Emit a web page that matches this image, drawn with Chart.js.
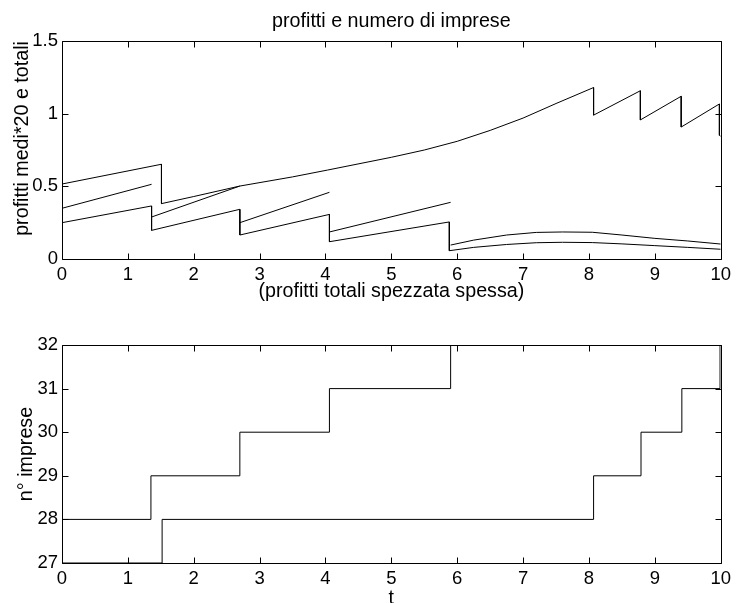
<!DOCTYPE html>
<html>
<head>
<meta charset="utf-8">
<script src="https://cdn.jsdelivr.net/npm/chart.js@4.4.0/dist/chart.umd.min.js"></script>
<style>
  html, body { margin: 0; padding: 0; background: #fff; overflow: hidden; }
  #top-chart { position: absolute; left: 0; top: 0; }
  #bottom-chart { position: absolute; left: 0; top: 310px; }
</style>
</head>
<body>
<canvas id="top-chart" width="736" height="310"></canvas>
<canvas id="bottom-chart" width="736" height="300"></canvas>
<script>
// Data
// upper panel: t values and profit curves (null = break in the line)
const tMed2 = [0, 1.51, 1.51, 2.0, 2.7, 3.5, 4.03, 5.0, 5.5, 6.0, 6.5, 7.0, 7.5, 8.07, 8.07, 8.78, 8.78, 9.40, 9.40, 9.98, 9.98, 10];
const profMed2 = [0.516, 0.652, 0.381, 0.43, 0.502, 0.565, 0.612, 0.70, 0.75, 0.81, 0.885, 0.97, 1.07, 1.18, 0.99, 1.158, 0.957, 1.12, 0.908, 1.067, 0.851, 0.845];

const tTot = [0, 1.36, 1.36, 1.36, 2.70, 2.70, 2.70, 4.06, 4.06, 4.06, 5.90, 5.90, 5.90, 6.25, 6.75, 7.2, 7.6, 8.05, 8.5, 9.0, 9.5, 10];
const profTot = [0.349, 0.514, null, 0.289, 0.502, null, 0.25, 0.459, null, 0.186, 0.39, null, 0.096, 0.13, 0.165, 0.183, 0.186, 0.184, 0.165, 0.142, 0.124, 0.103];

const tMed1 = [0, 1.36, 1.36, 2.70, 2.70, 4.06, 4.06, 5.88, 5.88, 6.25, 6.75, 7.2, 7.6, 8.05, 8.5, 9.0, 9.5, 10];
const profMed1 = [0.25, 0.365, 0.197, 0.342, 0.165, 0.307, 0.119, 0.255, 0.057, 0.08, 0.10, 0.112, 0.115, 0.113, 0.104, 0.092, 0.08, 0.067];

// lower panel: number of firms, each value holds from its t onwards
const tFirms1 = [0, 1.35, 2.70, 4.06, 5.90, 10];
const firms1 = [28, 29, 30, 31, 32, 32];
const tFirms2 = [0, 1.52, 8.07, 8.79, 9.41, 9.99, 10];
const firms2 = [27, 28, 29, 30, 31, 32, 32];

Chart.defaults.font.family = '"Liberation Sans", Arial, Helvetica, sans-serif';
Chart.defaults.color = '#000';

const pts = (xs, ys) => xs.map((x, i) => ({ x, y: ys[i] }));

// MATLAB style box with ticks pointing inwards
const boxTicks = {
    id: 'boxTicks',
    afterDatasetsDraw(chart) {
        const { ctx, chartArea: a, scales: { x, y } } = chart;
        const L = Math.round(a.left) + 0.5, R = Math.round(a.right) + 0.5;
        const T = Math.round(a.top) + 0.5, B = Math.round(a.bottom) + 0.5;
        ctx.save();
        ctx.strokeStyle = '#000';
        ctx.lineWidth = 1;
        ctx.beginPath();
        x.ticks.forEach(t => {
            const px = Math.round(x.getPixelForValue(t.value)) + 0.5;
            ctx.moveTo(px, T); ctx.lineTo(px, T + 6);
            ctx.moveTo(px, B); ctx.lineTo(px, B - 6);
        });
        y.ticks.forEach(t => {
            const py = Math.round(y.getPixelForValue(t.value)) + 0.5;
            ctx.moveTo(L, py); ctx.lineTo(L + 6, py);
            ctx.moveTo(R, py); ctx.lineTo(R - 6, py);
        });
        ctx.rect(L, T, R - L, B - T);
        ctx.stroke();
        ctx.restore();
    }
};

const lineStyle = { borderColor: '#000', borderWidth: 1, pointRadius: 0, fill: false, tension: 0, spanGaps: false };
const tickFont = { size: 18.5 };
const labelFont = { size: 19.7 };
const plain = v => String(v);

new Chart(document.getElementById('top-chart'), {
    type: 'line',
    data: {
        datasets: [
            { label: 'profitti medi*20 (gruppo 2)', data: pts(tMed2, profMed2), ...lineStyle },
            { label: 'profitti totali', data: pts(tTot, profTot), ...lineStyle },
            { label: 'profitti medi*20 (gruppo 1)', data: pts(tMed1, profMed1), ...lineStyle }
        ]
    },
    options: {
        responsive: false,
        animation: false,
        layout: { padding: { top: 0, right: 14, bottom: 0, left: 0 } },
        plugins: {
            legend: { display: false },
            tooltip: { enabled: false },
            title: {
                display: true,
                text: 'profitti e numero di imprese',
                fullSize: false,
                color: '#000',
                font: { size: 19.7, weight: 'normal' },
                padding: { top: 9.5, bottom: 7.9 }
            }
        },
        scales: {
            x: {
                type: 'linear',
                min: 0, max: 10,
                grid: { display: false, drawTicks: false },
                border: { display: false },
                ticks: { stepSize: 1, font: tickFont, padding: 5, maxRotation: 0, callback: plain },
                title: { display: true, text: '(profitti totali spezzata spessa)', font: labelFont, padding: { top: 0, bottom: 6.6 } },
                afterFit: s => { s.height = 51; }
            },
            y: {
                min: 0, max: 1.5,
                grid: { display: false, drawTicks: false },
                border: { display: false },
                ticks: { stepSize: 0.5, font: tickFont, padding: 4, callback: plain },
                title: { display: true, text: 'profitti medi*20 e totali', align: 'end', font: labelFont, padding: { top: 11.2, bottom: 0 } },
                afterFit: s => { s.width = 62; }
            }
        }
    },
    plugins: [boxTicks]
});

new Chart(document.getElementById('bottom-chart'), {
    type: 'line',
    data: {
        datasets: [
            { label: 'imprese gruppo 1', data: pts(tFirms1, firms1), stepped: true, ...lineStyle },
            { label: 'imprese gruppo 2', data: pts(tFirms2, firms2), stepped: true, ...lineStyle }
        ]
    },
    options: {
        responsive: false,
        animation: false,
        layout: { padding: { top: 35, right: 14, bottom: 0, left: 0 } },
        plugins: {
            legend: { display: false },
            tooltip: { enabled: false }
        },
        scales: {
            x: {
                type: 'linear',
                min: 0, max: 10,
                grid: { display: false, drawTicks: false },
                border: { display: false },
                ticks: { stepSize: 1, font: tickFont, padding: 5, maxRotation: 0, callback: plain },
                title: { display: true, text: 't', font: labelFont, padding: { top: 0, bottom: 0 } },
                afterFit: s => { s.height = 47; }
            },
            y: {
                min: 27, max: 32,
                grid: { display: false, drawTicks: false },
                border: { display: false },
                ticks: { stepSize: 1, font: tickFont, padding: 4, callback: plain },
                title: { display: true, text: 'n° imprese', font: labelFont, padding: { top: 15.2, bottom: 0 } },
                afterFit: s => { s.width = 62; }
            }
        }
    },
    plugins: [boxTicks]
});
</script>
</body>
</html>
